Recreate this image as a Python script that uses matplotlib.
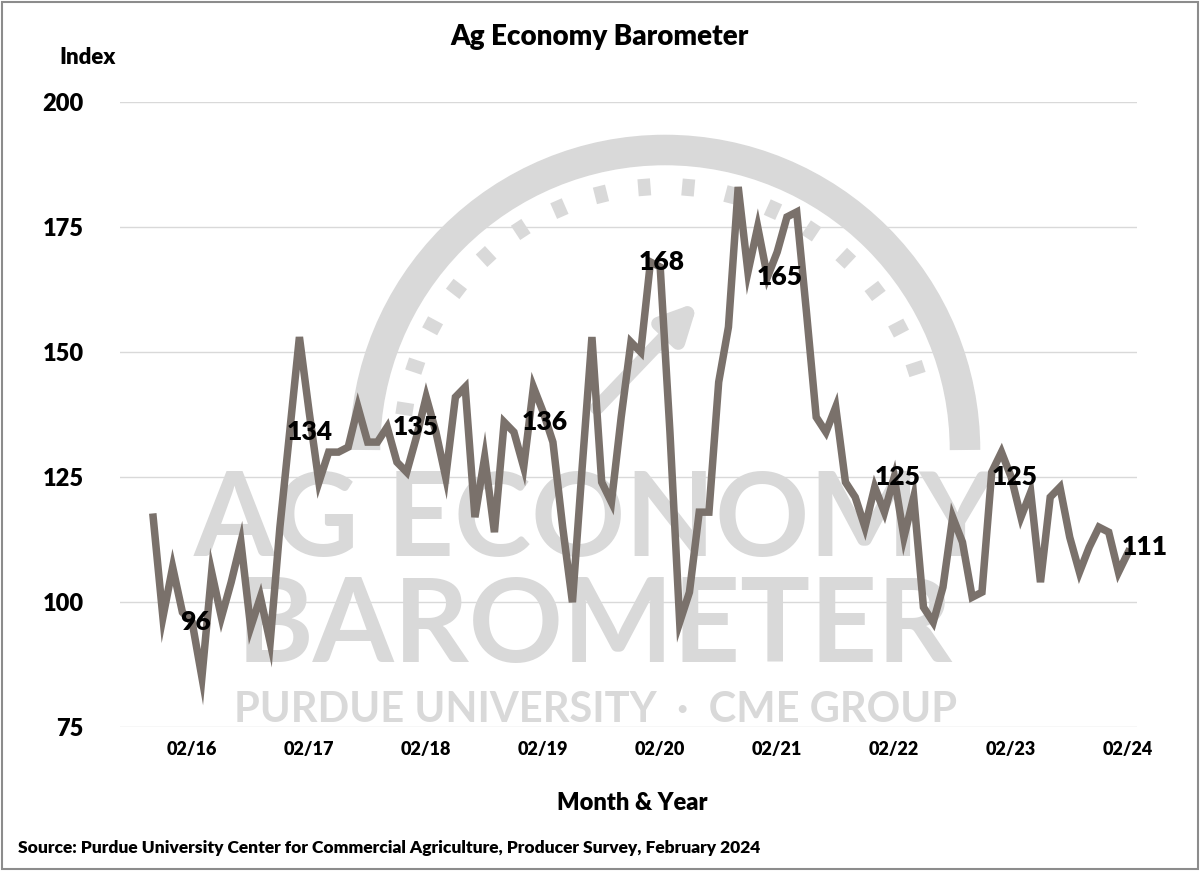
import matplotlib
matplotlib.use("Agg")
import matplotlib.pyplot as plt
from matplotlib.patches import Arc
import numpy as np

plt.rcParams['font.family'] = ['Lato', 'DejaVu Sans']

values = [117, 97, 107, 98, 96, 85, 106, 97, 104, 112, 95, 101, 92,
          115, 134, 153, 138, 124, 130, 130, 131, 139, 132, 132, 135, 128,
          126, 133, 141, 134, 125, 141, 143, 117, 129, 114, 136, 134, 127,
          143, 138, 132, 115, 100, 127, 153, 124, 120, 137, 152, 150, 168,
          167, 134, 96, 102, 118, 118, 144, 155, 183, 166, 175, 165, 170,
          177, 178, 158, 137, 134, 139, 124, 121, 115, 123, 118, 125, 113,
          121, 99, 96, 103, 117, 112, 101, 102, 126, 130, 125, 117, 122,
          104, 121, 123, 113, 106, 111, 115, 114, 106, 110]
tick_labels = ["02/16", "02/17", "02/18", "02/19", "02/20", "02/21", "02/22", "02/23", "02/24"]
tick_months = [4, 16, 28, 40, 52, 64, 76, 88, 100]
label_months = [4.3, 16.1, 26.9, 40.2, 52.2, 64.3, 76.4, 88.4, 101.7]
label_values = [96, 134, 135, 136, 168, 165, 125, 125, 111]

W, H = 1200, 871
fig = plt.figure(figsize=(W/100, H/100), dpi=100)

bg = fig.add_axes([0, 0, 1, 1], zorder=0)
bg.set_xlim(0, W); bg.set_ylim(H, 0); bg.axis('off')
wm = '#d9d9d9'
bg.add_patch(Arc((665, 450), 600, 600, theta1=180, theta2=360, lw=22, color=wm))
th = np.linspace(np.pi*1.05, np.pi*1.9, 17)
for t in th:
    bg.plot([665+255*np.cos(t), 665+272*np.cos(t)], [450+255*np.sin(t), 450+272*np.sin(t)],
            color=wm, lw=9, solid_capstyle='butt')
bg.annotate('', xy=(700, 300), xytext=(595, 410),
            arrowprops=dict(arrowstyle='-|>', color=wm, lw=10, mutation_scale=50))
bg.text(595, 522, 'AG ECONOMY', fontsize=84, fontweight='bold', color=wm, ha='center', va='center')
bg.text(595, 628, 'BAROMETER', fontsize=84, fontweight='bold', color=wm, ha='center', va='center')
bg.text(595, 710, 'PURDUE UNIVERSITY  ·  CME GROUP', fontsize=30, fontweight='bold', color=wm,
        ha='center', va='center')
bg.add_patch(plt.Rectangle((2, 2), W-4, H-4, fill=False, ec='#8c8c8c', lw=1.5))

ax = fig.add_axes([0.1, 0.165, 0.8475, 0.718], zorder=1)
ax.patch.set_alpha(0)
x = np.arange(len(values))
ax.plot(x, values, color='#7a716b', lw=5.4, solid_joinstyle='miter', zorder=3)
ax.set_xlim(-3.4, 100.9)
ax.set_ylim(75, 200)
ax.set_yticks([75, 100, 125, 150, 175, 200])
ax.grid(axis='y', color='#d9d9d9', lw=1)
ax.set_axisbelow(True)
for s in ax.spines.values():
    s.set_visible(False)
ax.tick_params(length=0)
ax.tick_params(axis='y', labelsize=17, pad=26)
for lbl in ax.get_yticklabels():
    lbl.set_fontweight('heavy')
ax.set_xticks(tick_months)
ax.set_xticklabels(tick_labels, fontsize=13, fontweight='heavy')
ax.tick_params(axis='x', pad=10)
for m, v in zip(label_months, label_values):
    ax.text(m, v, str(v), fontsize=19, fontweight='heavy', ha='center', va='center', zorder=4)

fig.text(600/W, 1-37/H, 'Ag Economy Barometer', fontsize=20, fontweight='heavy', ha='center', va='center')
fig.text(88/W, 1-57/H, 'Index', fontsize=16, fontweight='heavy', ha='center', va='center')
fig.text(632/W, 1-803/H, 'Month & Year', fontsize=17, fontweight='heavy', ha='center', va='center')
fig.text(18/W, 1-848/H, 'Source: Purdue University Center for Commercial Agriculture, Producer Survey, February 2024',
         fontsize=12.5, fontweight='heavy', ha='left', va='center')

fig.savefig('out.png', dpi=100, facecolor='white')
